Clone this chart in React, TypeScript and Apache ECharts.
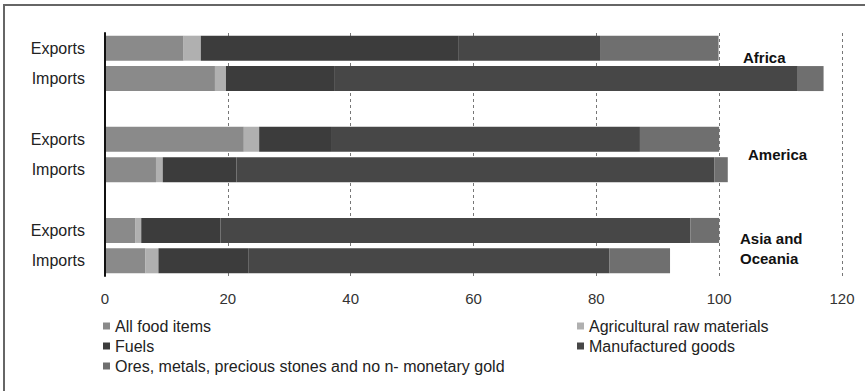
import React, { useEffect, useRef } from "react";
import * as echarts from "echarts";

// Rows of the chart, top to bottom; the "gap" rows separate the regions.
const rowKeys = [
  "Africa|Exports",
  "Africa|Imports",
  "gap1|",
  "America|Exports",
  "America|Imports",
  "gap2|",
  "Asia|Exports",
  "Asia|Imports",
];

const seriesNames = [
  "All food items",
  "Agricultural raw materials",
  "Fuels",
  "Manufactured goods",
  "Ores, metals, precious stones and no n- monetary gold",
];

// Shares (%) per row, same order as rowKeys
const foodItems = [12.8, 17.9, null, 22.6, 8.3, null, 4.9, 6.6];
const agriRaw = [2.8, 1.8, null, 2.5, 1.1, null, 1.0, 2.1];
const fuels = [41.9, 17.6, null, 11.7, 12.0, null, 12.9, 14.7];
const manufactured = [23.1, 75.5, null, 50.3, 77.8, null, 76.5, 58.7];
const oresMetals = [19.3, 4.2, null, 12.9, 2.2, null, 4.7, 9.9];

const xTicks = { min: 0, max: 120, interval: 20 };

const regionLabels = ["Africa", "America", "Asia and\nOceania"];

const colors = ["#8a8a8a", "#b0b0b0", "#3c3c3c", "#474747", "#6f6f6f"];

export default function App() {
  const ref = useRef<HTMLDivElement>(null);

  useEffect(() => {
    if (!ref.current) return;
    const chart = echarts.init(ref.current, undefined, { renderer: "svg" });
    const values = [foodItems, agriRaw, fuels, manufactured, oresMetals];
    const font = "'Liberation Sans', Arial, sans-serif";

    chart.setOption({
      animation: false,
      backgroundColor: "#ffffff",
      textStyle: { fontFamily: font },
      grid: { left: 105, right: 23, top: 33, bottom: 115, containLabel: false },
      legend: [
        {
          data: [seriesNames[0], seriesNames[2], seriesNames[4]],
          orient: "vertical",
          left: 103,
          top: 318,
          padding: 0,
          itemGap: 4,
          itemWidth: 7,
          itemHeight: 7,
          icon: "rect",
          textStyle: { fontSize: 16, color: "#222", fontFamily: font, lineHeight: 16 },
        },
        {
          data: [seriesNames[1], seriesNames[3]],
          orient: "vertical",
          left: 577,
          top: 318,
          padding: 0,
          itemGap: 4,
          itemWidth: 7,
          itemHeight: 7,
          icon: "rect",
          textStyle: { fontSize: 16, color: "#222", fontFamily: font, lineHeight: 16 },
        },
      ],
      xAxis: {
        type: "value",
        min: xTicks.min,
        max: xTicks.max,
        interval: xTicks.interval,
        axisLine: { show: false },
        axisTick: { show: false },
        axisLabel: { fontSize: 15, color: "#333", margin: 15, fontFamily: font },
        splitLine: {
          show: true,
          lineStyle: { color: "#777", type: [3, 3], width: 1 },
        },
      },
      yAxis: {
        type: "category",
        inverse: true,
        z: 10,
        data: rowKeys,
        axisLine: { show: true, onZero: false, lineStyle: { color: "#111", width: 2 } },
        axisTick: { show: false },
        axisLabel: {
          fontSize: 16,
          color: "#222",
          margin: 20,
          fontFamily: font,
          formatter: (v: string) => v.split("|")[1],
        },
        splitLine: { show: false },
      },
      series: seriesNames.map((name, i) => ({
        name,
        type: "bar",
        stack: "total",
        z: 1,
        barWidth: 25,
        itemStyle: { color: colors[i] },
        data: values[i],
      })),
      graphic: [
        {
          type: "rect",
          silent: true,
          z: -1,
          shape: { x: 4, y: 5, width: 1000, height: 1000 },
          style: { fill: "none", stroke: "#666", lineWidth: 2 },
        },
        {
          type: "text",
          x: 743,
          y: 57,
          style: {
            text: regionLabels[0],
            font: `bold 15px ${font}`,
            fill: "#111",
            textVerticalAlign: "middle",
          },
        },
        {
          type: "text",
          x: 748,
          y: 154,
          style: {
            text: regionLabels[1],
            font: `bold 15px ${font}`,
            fill: "#111",
            textVerticalAlign: "middle",
          },
        },
        {
          type: "text",
          x: 740,
          y: 248,
          style: {
            text: regionLabels[2],
            font: `bold 15px ${font}`,
            lineHeight: 20,
            fill: "#111",
            textVerticalAlign: "middle",
          },
        },
      ],
    });

    return () => chart.dispose();
  }, []);

  return (
    <div
      ref={ref}
      style={{ position: "fixed", left: 0, top: 0, width: 865, height: 391, background: "#fff" }}
    />
  );
}
